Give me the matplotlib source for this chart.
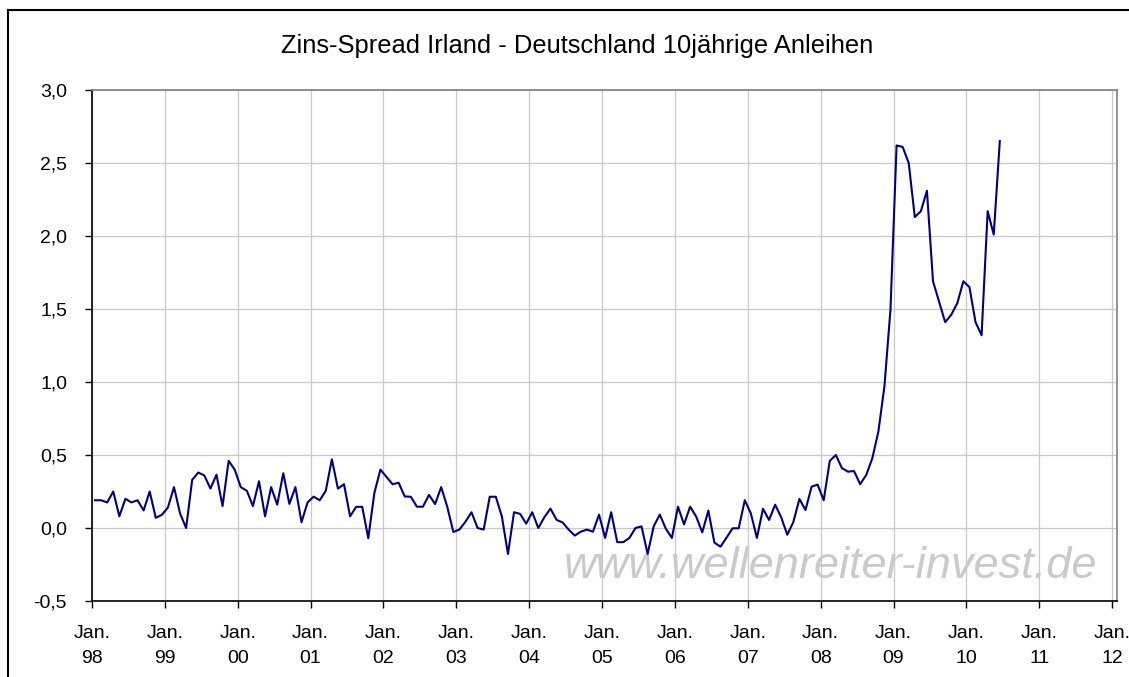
import numpy as np
import matplotlib
matplotlib.use("Agg")
from matplotlib import pyplot as plt
from matplotlib.lines import Line2D
from matplotlib.ticker import FuncFormatter

plt.rcParams['font.family'] = ['Liberation Sans', 'DejaVu Sans']

## monatliche Werte Jan 1998 - Jun 2010 (Prozentpunkte)
spread_98_01 = [0.19, 0.19, 0.175, 0.25, 0.08, 0.20, 0.175, 0.19, 0.12, 0.25, 0.07, 0.09,
                0.14, 0.28, 0.10, 0.0, 0.33, 0.38, 0.36, 0.27, 0.365, 0.15, 0.46, 0.40,
                0.28, 0.255, 0.15, 0.32, 0.08, 0.28, 0.16, 0.375, 0.165, 0.28, 0.04, 0.175,
                0.215, 0.19, 0.255, 0.47, 0.27, 0.30, 0.08, 0.145, 0.145, -0.07, 0.24, 0.40]
spread_02_05 = [0.35, 0.30, 0.31, 0.216, 0.214, 0.146, 0.146, 0.227, 0.164, 0.28, 0.146, -0.027,
                -0.011, 0.043, 0.108, 0.0, -0.011, 0.214, 0.214, 0.079, -0.178, 0.108, 0.097, 0.03,
                0.108, 0.0, 0.074, 0.133, 0.056, 0.038, -0.011, -0.052, -0.025, -0.011, -0.025, 0.092,
                -0.068, 0.108, -0.097, -0.097, -0.068, 0.0, 0.011, -0.178, 0.011, 0.092, -0.005, -0.068]
spread_06_08 = [0.146, 0.025, 0.146, 0.078, -0.03, 0.119, -0.10, -0.128, -0.066, -0.002, -0.002, 0.19,
                0.10, -0.068, 0.132, 0.055, 0.16, 0.073, -0.046, 0.041, 0.199, 0.123, 0.283, 0.297,
                0.19, 0.46, 0.50, 0.41, 0.386, 0.39, 0.30, 0.363, 0.477, 0.66, 0.97, 1.50]
spread_09_10 = [2.62, 2.61, 2.50, 2.13, 2.17, 2.31, 1.69, 1.55, 1.41, 1.46, 1.54, 1.69,
                1.65, 1.41, 1.32, 2.17, 2.01, 2.65]

spread = np.array(spread_98_01 + spread_02_05 + spread_06_08 + spread_09_10)
jahre = ["98", "99", "00", "01", "02", "03", "04", "05", "06", "07", "08", "09", "10", "11", "12"]

# Monate seit Jan 98, Punkt jeweils in der Monatsmitte
monate = np.arange(len(spread)) + 0.5

fig = plt.figure(figsize=(11.29, 6.77), dpi=100)
ax = fig.add_axes([92 / 1129, 1 - 601 / 677, (1117 - 92) / 1129, (601 - 90) / 677])

ax.plot(monate, spread, color='#000080', linewidth=1.5, zorder=3)

ax.set_xlim(0, 168.8)
ax.set_ylim(-0.5, 3.0)
ax.set_yticks(np.arange(-0.5, 3.01, 0.5))
ax.yaxis.set_major_formatter(FuncFormatter(lambda v, p: f"{v:.1f}".replace(".", ",")))
ax.set_xticks(np.arange(len(jahre)) * 12)
ax.set_xticklabels(["Jan.\n" + j for j in jahre], linespacing=1.65)

ax.grid(True, color='#c8c8c8', linewidth=0.9)
ax.set_axisbelow(True)
ax.tick_params(axis='both', direction='out', length=5, width=1, color='black',
               labelsize=14, labelcolor='black')
ax.tick_params(axis='y', pad=13)
ax.tick_params(axis='x', pad=12)
ax.spines['left'].set_color('black')
ax.spines['bottom'].set_color('black')
ax.spines['top'].set_color('#808080')
ax.spines['right'].set_color('#808080')
for s in ax.spines.values():
    s.set_linewidth(1.2)

fig.text(577 / 1129, 1 - 46 / 677, "Zins-Spread Irland - Deutschland 10jährige Anleihen",
         ha='center', va='center', fontsize=18.4)

# Wasserzeichen (Mitte bei ca. Monat 121.6 / -0.26)
ax.text(121.6, -0.265, "www.wellenreiter-invest.de", fontsize=32.5, style='italic',
        color='#cacaca', ha='center', va='center', zorder=2)

# Rahmen (nur links und oben sichtbar)
fig.add_artist(Line2D([8 / 1129, 8 / 1129], [0, 1 - 10 / 677], color='black', linewidth=1.5,
                      transform=fig.transFigure))
fig.add_artist(Line2D([8 / 1129, 1], [1 - 10 / 677, 1 - 10 / 677], color='black', linewidth=1.5,
                      transform=fig.transFigure))

fig.savefig("out.png", dpi=100)
